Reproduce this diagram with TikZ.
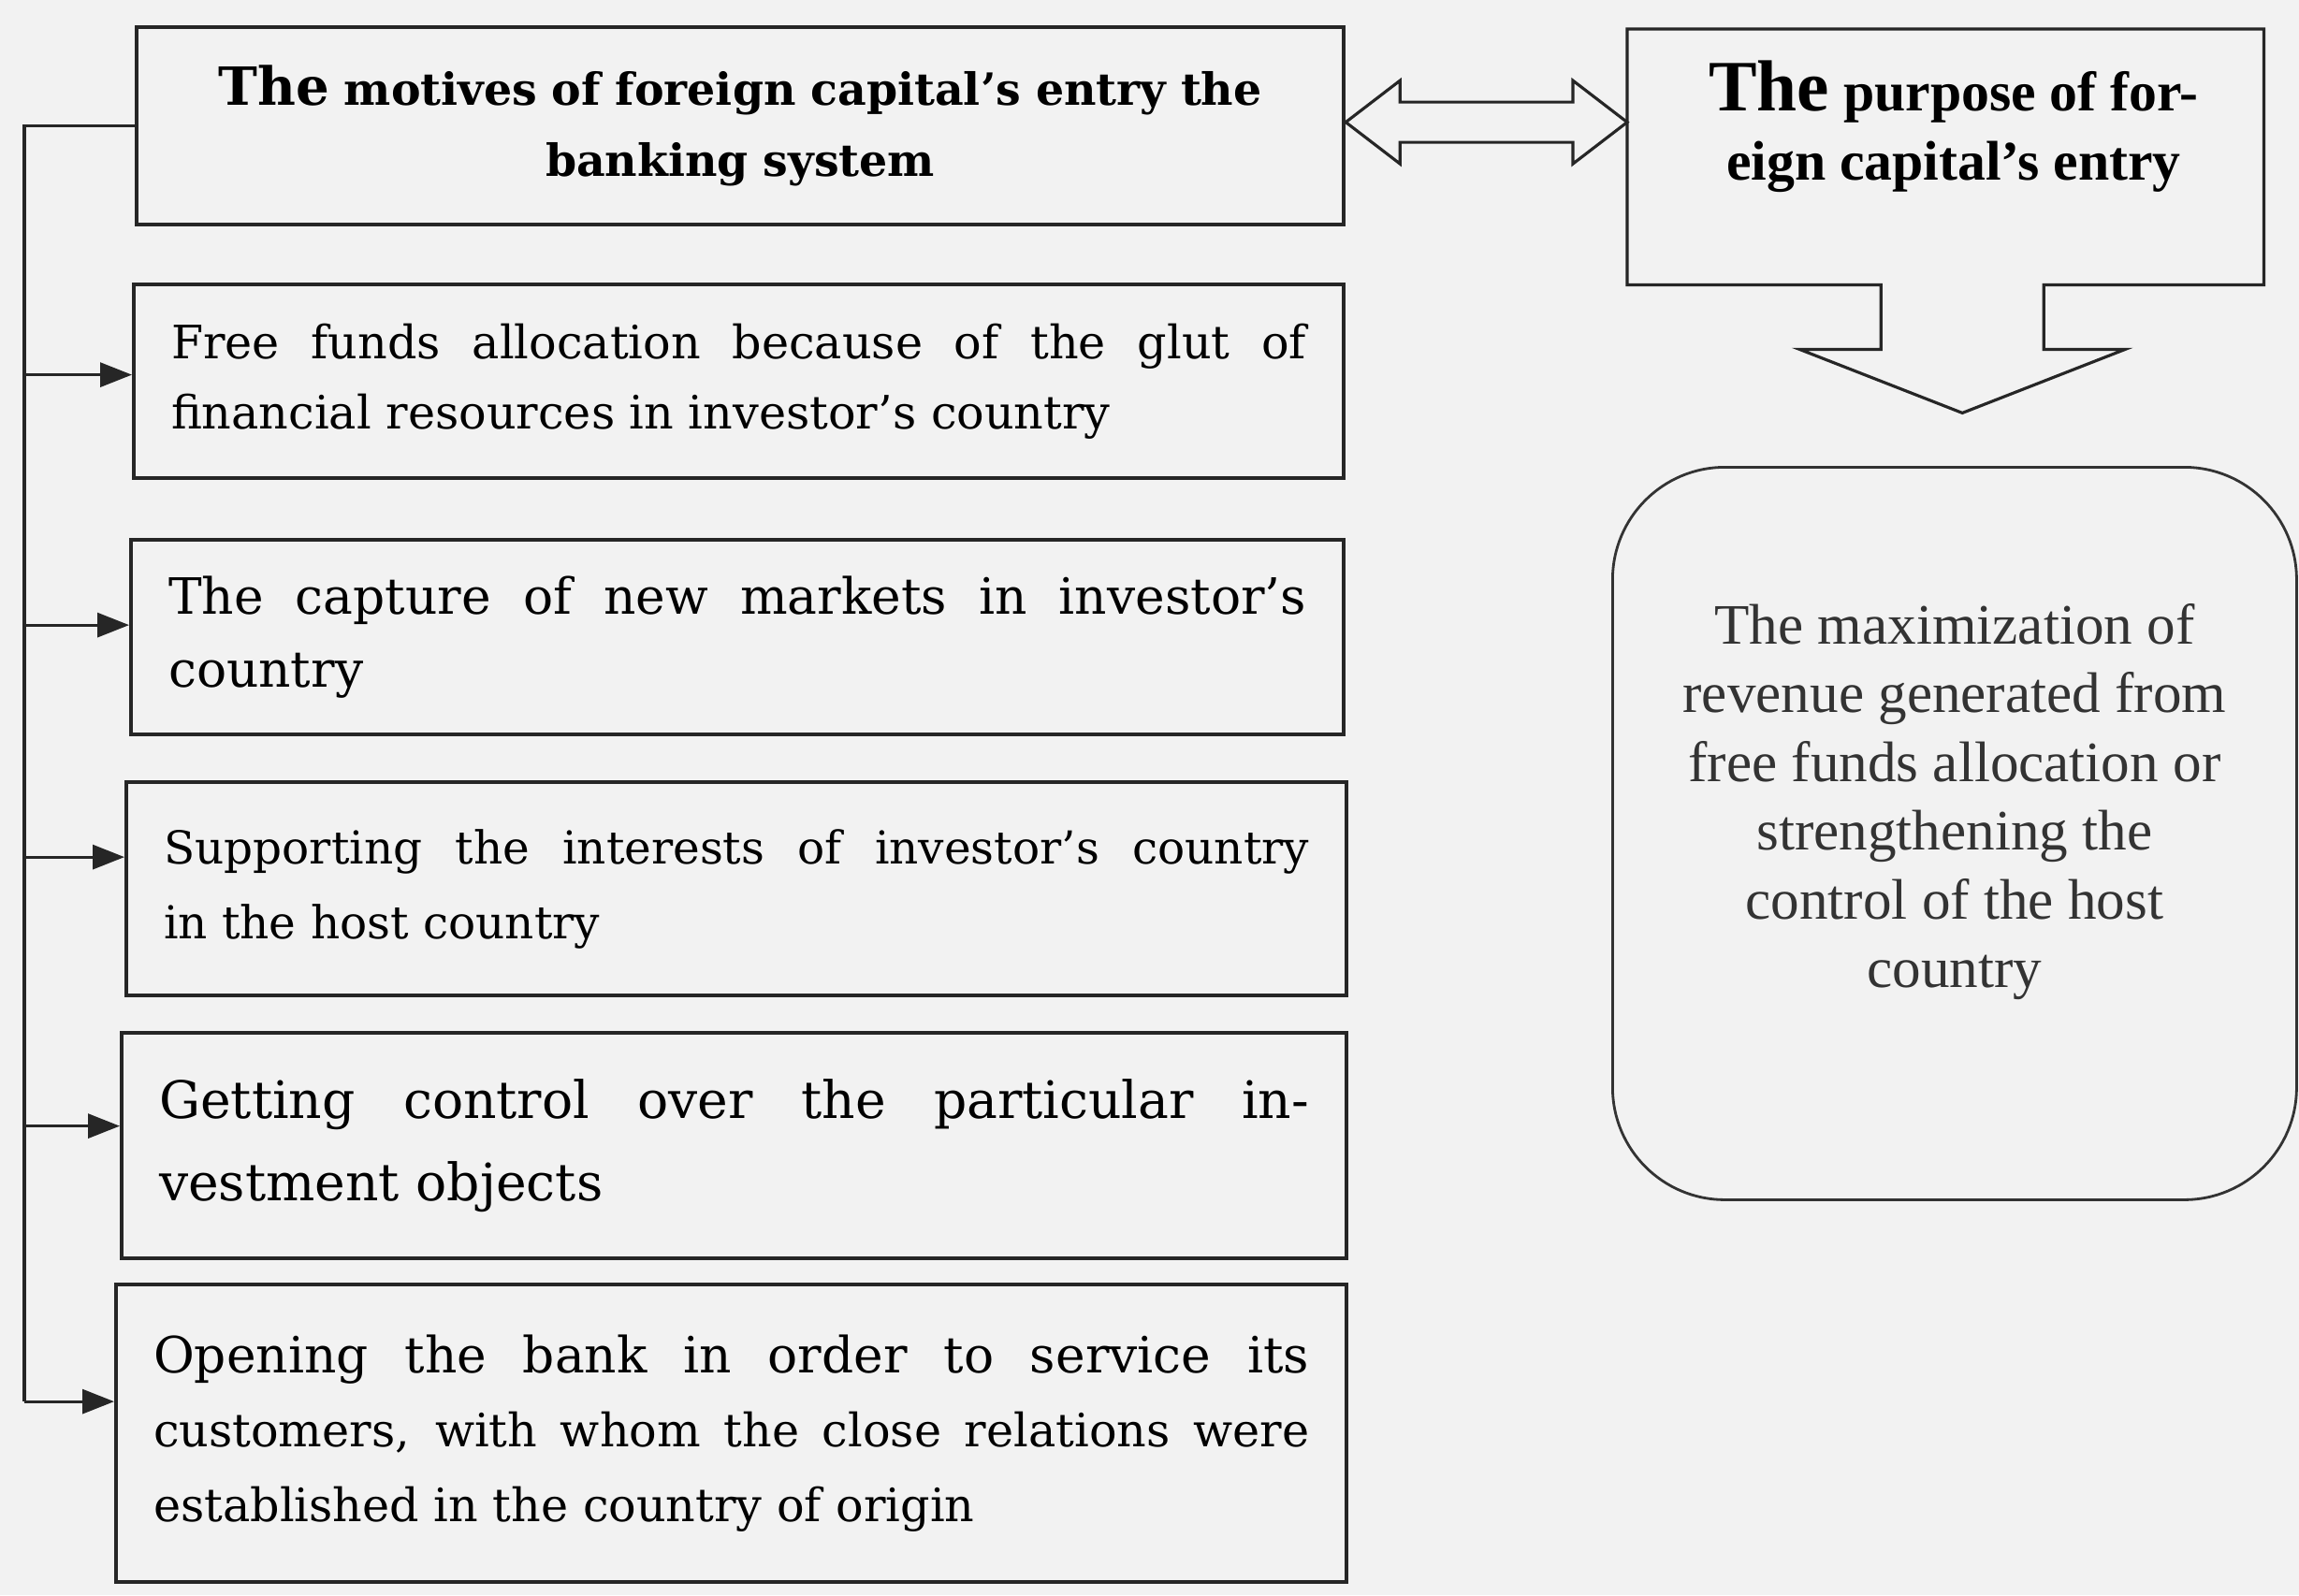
\documentclass[tikz,border=0pt]{standalone}
\usepackage{fontspec}
\setmainfont{DejaVu Serif}
\newfontfamily\timesfont{Liberation Serif}
\usetikzlibrary{arrows.meta,positioning,calc}

\tikzset{
  motive/.style={draw=black!85, line width=1.2pt, anchor=north west, inner xsep=4mm,
    text width=#1, align=justify, font=\fontsize{14}{21.5}\selectfont},
  branch/.style={-{Triangle[length=3.4mm,width=2.6mm]}, line width=0.9pt, draw=black!85},
  outline/.style={draw=black!85, line width=0.9pt, line join=miter},
  goal/.style={draw=black!80, line width=0.8pt, rounded corners=1.2cm, anchor=north west,
    minimum width=7.31cm, minimum height=7.83cm},
}

\begin{document}
\begin{tikzpicture}
\fill[black!5] (0,0) rectangle (24.57,-17.05);
\useasboundingbox (0,0) rectangle (24.57,-17.05);

% motives column
\node[motive=12.1cm, minimum height=2.11cm, align=center,
  font=\bfseries\fontsize{13.5}{21.5}\selectfont] (mot) at (1.44,-0.27)
  {{\fontsize{16}{21.5}\selectfont The} motives of foreign capital’s entry the\\banking system};
\node[motive=12.13cm, minimum height=2.07cm] (m1) at (1.41,-3.02)
  {Free funds allocation because of the glut of\linebreak financial resources in investor’s country};
\node[motive=12.16cm, minimum height=2.08cm, font=\fontsize{15.2}{22.2}\selectfont] (m2) at (1.38,-5.75)
  {The capture of new markets in investor’s\linebreak country};
\node[motive=12.24cm, minimum height=2.28cm, font=\fontsize{13.8}{22.7}\selectfont] (m3) at (1.33,-8.34)
  {Supporting the interests of investor’s country\linebreak in the host country};
\node[motive=12.29cm, minimum height=2.41cm, font=\fontsize{15.7}{25}\selectfont] (m4) at (1.28,-11.02)
  {Getting control over the particular in-\linebreak vestment objects};
\node[motive=12.35cm, minimum height=3.18cm, font=\fontsize{14}{22.5}\selectfont] (m5) at (1.22,-13.71)
  {{\fontsize{15.2}{22.5}\selectfont Opening the bank in order to service its}\linebreak
   customers, with whom the close relations were\linebreak established in the country of origin};

% purpose and goal
\node[anchor=north west, minimum width=6.79cm, minimum height=2.72cm, inner sep=0] (purpbox) at (17.39,-0.31) {};
\node[align=center, font=\timesfont\bfseries\fontsize{17}{21}\selectfont] (purp) at (20.88,-1.35)
  {{\fontsize{22}{21}\selectfont The} purpose of for-\\eign capital’s entry};
\node[goal] (goal) at (17.22,-4.98) {};
\node[align=center, text=black!80, font=\timesfont\fontsize{17.4}{20.9}\selectfont] (goaltxt)
  at ([yshift=3.4mm]goal.center)
  {The maximization of\\revenue generated from\\free funds allocation or\\strengthening the\\control of the host\\country};

% callout with down arrow
\coordinate (ar) at ($(purpbox.south)+(0.18,0)$);
\draw[outline] (purpbox.north west) -- (purpbox.north east) -- (purpbox.south east)
  -- ($(ar)+(0.87,0)$) -- ++(0,-0.69) -- ++(0.87,0) -- ($(ar)+(0,-1.37)$)
  -- ($(ar)+(-1.74,-0.69)$) -- ++(0.87,0) -- ($(ar)+(-0.87,0)$) -- (purpbox.south west) -- cycle;

% double arrow
\coordinate (L) at ($(mot.east)+(0,0.04)$);
\coordinate (R) at (purpbox.west |- L);
\draw[outline] (L) -- ++(0.58,0.445) -- ++(0,-0.23) -- ($(R)+(-0.58,0.215)$) -- ++(0,0.23)
  -- (R) -- ++(-0.58,-0.445) -- ++(0,0.23) -- ($(L)+(0.58,-0.215)$) -- ++(0,-0.23) -- cycle;

% branches
\coordinate (trunk) at (0.26,0);
\foreach \b/\dy in {m1/0.07, m2/0.13, m3/0.34, m4/0.21, m5/0.34}
  \path ([yshift=\dy cm]\b.west) coordinate (\b-in);
\draw[line width=0.9pt, draw=black!85] (mot.west) -| (trunk |- m5-in);
\foreach \b in {m1,m2,m3,m4,m5}
  \draw[branch] (trunk |- \b-in) -- (\b-in);
\end{tikzpicture}
\end{document}
